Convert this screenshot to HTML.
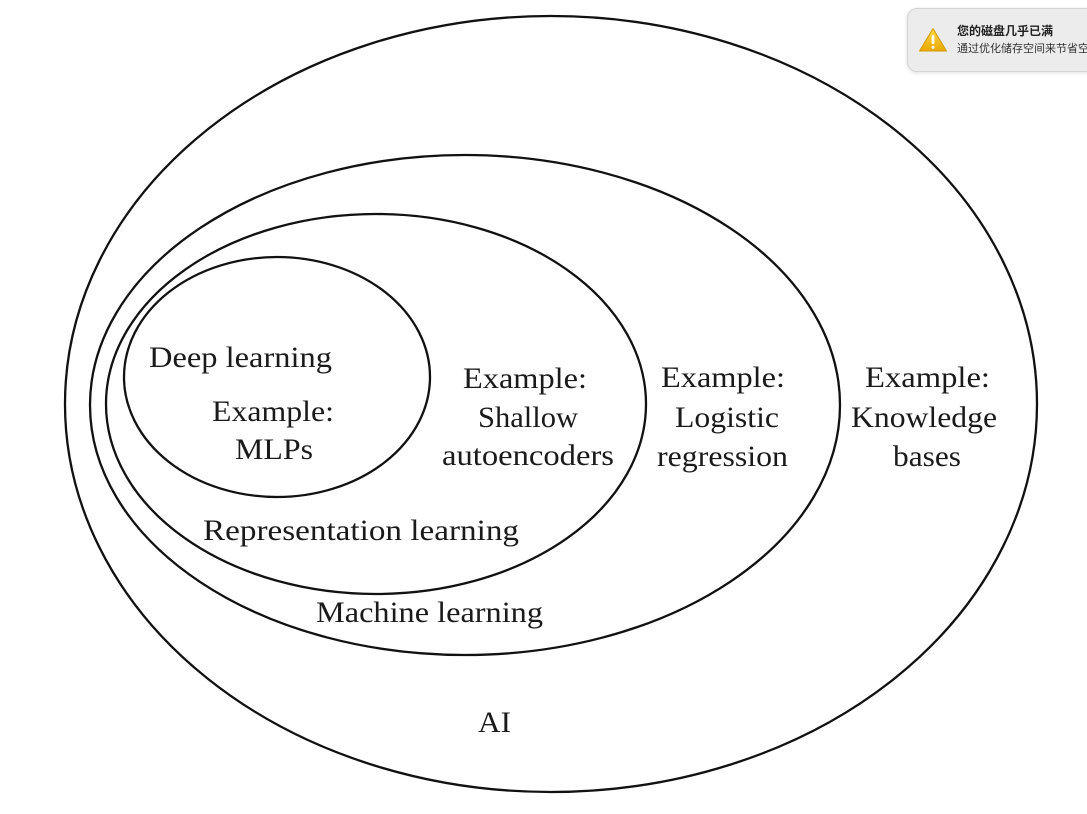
<!DOCTYPE html>
<html>
<head>
<meta charset="utf-8">
<style>
  html, body { margin: 0; padding: 0; background: #ffffff; }
  body { width: 1087px; height: 814px; overflow: hidden; position: relative; }
  svg { position: absolute; left: 0; top: 0; }
  .t { font-family: "Liberation Serif", "DejaVu Serif", serif; font-size: 30px; fill: #1a1a1a; }
  .note {
    position: absolute; left: 907px; top: 8px; width: 200px; height: 62px;
    background: #ececec; border: 1px solid #d4d4d4; border-radius: 10px;
    box-shadow: 0 1px 4px rgba(0,0,0,0.12);
    font-family: "Liberation Sans", "Noto Sans CJK SC", sans-serif;
  }
  .note .title { position: absolute; left: 49px; top: 13px; font-size: 12px; color: #222; white-space: nowrap; font-weight: bold; }
  .note .sub { position: absolute; left: 49px; top: 31px; font-size: 11px; color: #333; white-space: nowrap; }
  .note svg { position: absolute; left: 10px; top: 18px; }
</style>
</head>
<body>
<svg width="1087" height="814" viewBox="0 0 1087 814" xmlns="http://www.w3.org/2000/svg">
  <g fill="none" stroke="#111" stroke-width="2.3">
    <ellipse cx="551" cy="404" rx="486" ry="388"/>
    <ellipse cx="465" cy="405" rx="375" ry="250"/>
    <ellipse cx="376" cy="404" rx="270" ry="190"/>
    <ellipse cx="277" cy="377" rx="153" ry="120"/>
  </g>
  <text class="t" x="149" y="367" textLength="183" lengthAdjust="spacingAndGlyphs">Deep learning</text>
  <text class="t" x="212" y="421" textLength="122" lengthAdjust="spacingAndGlyphs">Example:</text>
  <text class="t" x="235" y="459" textLength="78" lengthAdjust="spacingAndGlyphs">MLPs</text>

  <text class="t" x="463" y="388" textLength="124" lengthAdjust="spacingAndGlyphs">Example:</text>
  <text class="t" x="478" y="427" textLength="100" lengthAdjust="spacingAndGlyphs">Shallow</text>
  <text class="t" x="442" y="465" textLength="172" lengthAdjust="spacingAndGlyphs">autoencoders</text>

  <text class="t" x="661" y="387" textLength="124" lengthAdjust="spacingAndGlyphs">Example:</text>
  <text class="t" x="675" y="427" textLength="104" lengthAdjust="spacingAndGlyphs">Logistic</text>
  <text class="t" x="657" y="466" textLength="131" lengthAdjust="spacingAndGlyphs">regression</text>

  <text class="t" x="865" y="387" textLength="125" lengthAdjust="spacingAndGlyphs">Example:</text>
  <text class="t" x="851" y="427" textLength="146" lengthAdjust="spacingAndGlyphs">Knowledge</text>
  <text class="t" x="893" y="466" textLength="68" lengthAdjust="spacingAndGlyphs">bases</text>

  <text class="t" x="203" y="540" textLength="316" lengthAdjust="spacingAndGlyphs">Representation learning</text>
  <text class="t" x="316" y="622" textLength="227" lengthAdjust="spacingAndGlyphs">Machine learning</text>
  <text class="t" x="478" y="732" textLength="33" lengthAdjust="spacingAndGlyphs">AI</text>
</svg>

<div class="note">
  <svg width="30" height="26" viewBox="0 0 30 26" xmlns="http://www.w3.org/2000/svg">
    <defs>
      <linearGradient id="g" x1="0" y1="0" x2="0" y2="1">
        <stop offset="0" stop-color="#ffd84a"/>
        <stop offset="1" stop-color="#e8a800"/>
      </linearGradient>
    </defs>
    <path d="M15 1.5 L28.5 24 L1.5 24 Z" fill="url(#g)" stroke="#d49a00" stroke-width="1" stroke-linejoin="round"/>
    <rect x="13.6" y="8" width="2.8" height="9" rx="1.2" fill="#fff"/>
    <circle cx="15" cy="20.3" r="1.5" fill="#fff"/>
  </svg>
  <div class="title">您的磁盘几乎已满</div>
  <div class="sub">通过优化储存空间来节省空</div>
</div>
</body>
</html>
